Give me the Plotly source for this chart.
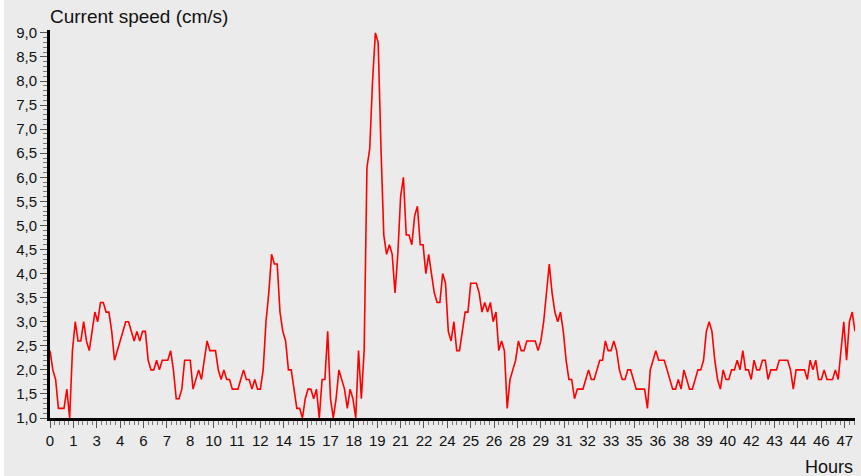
import plotly.graph_objects as go

# current speed, one reading every 10 minutes (cm/s)
speed = [
    2.4, 2.0, 1.8, 1.2, 1.2, 1.2,
    1.6, 1.0, 2.4, 3.0, 2.6, 2.6,
    3.0, 2.6, 2.4, 2.8, 3.2, 3.0,
    3.4, 3.4, 3.2, 3.2, 2.8, 2.2,
    2.4, 2.6, 2.8, 3.0, 3.0, 2.8,
    2.6, 2.8, 2.6, 2.8, 2.8, 2.2,
    2.0, 2.0, 2.2, 2.0, 2.2, 2.2,
    2.2, 2.4, 2.0, 1.4, 1.4, 1.6,
    2.2, 2.2, 2.2, 1.6, 1.8, 2.0,
    1.8, 2.2, 2.6, 2.4, 2.4, 2.4,
    2.0, 1.8, 2.0, 1.8, 1.8, 1.6,
    1.6, 1.6, 1.8, 2.0, 1.8, 1.8,
    1.6, 1.8, 1.6, 1.6, 2.0, 3.0,
    3.6, 4.4, 4.2, 4.2, 3.2, 2.8,
    2.6, 2.0, 2.0, 1.6, 1.2, 1.2,
    1.0, 1.4, 1.6, 1.6, 1.4, 1.6,
    1.0, 1.8, 1.8, 2.8, 1.4, 1.0,
    1.4, 2.0, 1.8, 1.6, 1.2, 1.6,
    1.4, 1.0, 2.4, 1.4, 2.4, 6.2,
    6.6, 8.0, 9.0, 8.8, 6.6, 4.8,
    4.4, 4.6, 4.4, 3.6, 4.4, 5.6,
    6.0, 4.8, 4.8, 4.6, 5.2, 5.4,
    4.6, 4.6, 4.0, 4.4, 4.0, 3.6,
    3.4, 3.4, 4.0, 3.8, 2.8, 2.6,
    3.0, 2.4, 2.4, 2.8, 3.2, 3.2,
    3.8, 3.8, 3.8, 3.6, 3.2, 3.4,
    3.2, 3.4, 3.0, 3.2, 2.4, 2.6,
    2.4, 1.2, 1.8, 2.0, 2.2, 2.6,
    2.4, 2.4, 2.6, 2.6, 2.6, 2.6,
    2.4, 2.6, 3.0, 3.6, 4.2, 3.6,
    3.2, 3.0, 3.2, 2.8, 2.2, 1.8,
    1.8, 1.4, 1.6, 1.6, 1.6, 1.8,
    2.0, 1.8, 1.8, 2.0, 2.2, 2.2,
    2.6, 2.4, 2.4, 2.6, 2.4, 2.0,
    1.8, 1.8, 2.0, 2.0, 1.8, 1.6,
    1.6, 1.6, 1.6, 1.2, 2.0, 2.2,
    2.4, 2.2, 2.2, 2.2, 2.0, 1.8,
    1.6, 1.6, 1.8, 1.6, 2.0, 1.8,
    1.6, 1.6, 1.8, 2.0, 2.0, 2.2,
    2.8, 3.0, 2.8, 2.2, 1.8, 1.6,
    2.0, 1.8, 1.8, 2.0, 2.0, 2.2,
    2.0, 2.4, 2.0, 2.0, 1.8, 2.2,
    2.0, 2.0, 2.2, 2.2, 1.8, 2.0,
    2.0, 2.0, 2.2, 2.2, 2.2, 2.2,
    2.0, 1.6, 2.0, 2.0, 2.0, 2.0,
    1.8, 2.2, 2.0, 2.2, 1.8, 1.8,
    2.0, 1.8, 1.8, 1.8, 2.0, 1.8,
    2.4, 3.0, 2.2, 3.0, 3.2, 2.8,
]
SAMPLE_STEP = 1 / 6  # hours

# x tick labels (rounded hours at every major tick)
hour_labels = [0, 1, 3, 4, 6, 7, 8, 10, 11, 12, 14, 15, 17, 18, 19, 21, 22,
               24, 25, 26, 28, 29, 31, 32, 33, 35, 36, 38, 39, 40, 42, 43, 44,
               46, 47]
TICK_STEP = 25 / 18  # hours between major ticks

BG = "#ebebeb"
FONT = "Liberation Sans, Arial, sans-serif"
W, H = 861, 476
ML, MR, MT, MB = 50, 6, 30, 58
plot_w = W - ML - MR
plot_h = H - MT - MB

fig = go.Figure()
fig.add_trace(go.Scatter(
    y=speed, x0=0, dx=SAMPLE_STEP,
    mode="lines",
    line=dict(color="#ff0000", width=1.6),
    showlegend=False,
    hoverinfo="skip",
))

x_end = (len(speed) - 1) * SAMPLE_STEP

fig.update_xaxes(
    range=[0, x_end],
    tickmode="array",
    tickvals=[k * TICK_STEP for k in range(len(hour_labels))],
    ticktext=[str(v) for v in hour_labels],
    ticks="outside", ticklen=7, tickwidth=1, tickcolor="#555555",
    minor=dict(dtick=TICK_STEP / 5, tick0=0, ticks="outside", ticklen=4,
               tickwidth=1, tickcolor="#777777", showgrid=False),
    showline=True, linecolor="black", linewidth=3,
    showgrid=False, zeroline=False,
    tickfont=dict(family=FONT, size=15, color="#111111"),
)

fig.update_yaxes(
    range=[1, 9.06],
    tick0=1, dtick=0.5, tickformat=".1f",
    ticks="outside", ticklen=7, tickwidth=1, tickcolor="#555555",
    minor=dict(dtick=0.1, tick0=1, ticks="outside", ticklen=4,
               tickwidth=1, tickcolor="#777777", showgrid=False),
    showline=True, linecolor="black", linewidth=3,
    showgrid=False, zeroline=False,
    tickfont=dict(family=FONT, size=15, color="#111111"),
)

fig.update_layout(
    width=W, height=H,
    margin=dict(l=ML, r=MR, t=MT, b=MB),
    paper_bgcolor=BG, plot_bgcolor=BG,
    separators=",.",
    font=dict(family=FONT, color="#111111"),
    title=dict(text="Current speed (cm/s)", xref="paper", x=0, xanchor="left",
               yref="container", y=1 - 16 / H, yanchor="middle",
               font=dict(size=19, color="#111111")),
    annotations=[dict(text="Hours", xref="paper", yref="paper",
                      x=1, xanchor="right", y=-49 / plot_h, yanchor="middle",
                      showarrow=False, font=dict(size=18, color="#111111"))],
    shapes=[dict(type="rect", xref="paper", yref="paper",
                 x0=-ML / plot_w, x1=-(ML - 4) / plot_w, y0=-1, y1=2,
                 fillcolor="white", line=dict(width=0), layer="above")],
)

fig.write_html("out.html", config={"displayModeBar": False},
               post_script="document.body.style.margin='0px';")
